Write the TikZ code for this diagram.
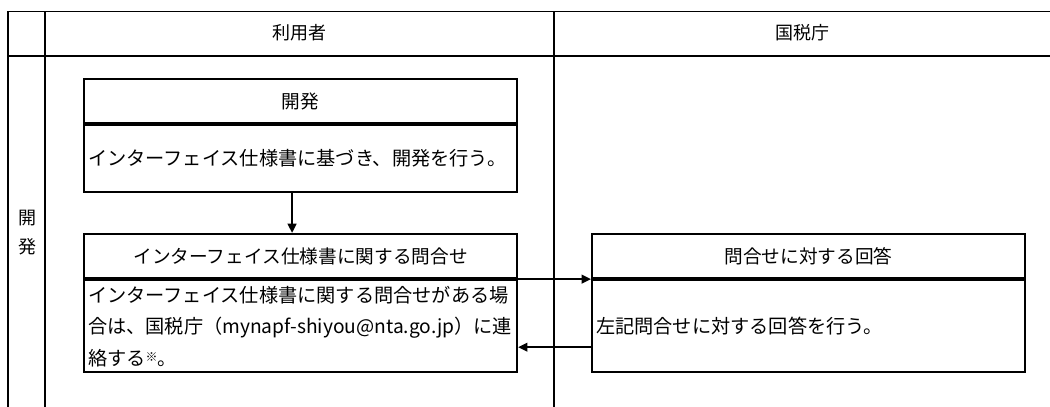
\documentclass[tikz,border=0pt]{standalone}
\usepackage{fontspec}
\newfontfamily\jp{Noto Sans CJK JP}
\usetikzlibrary{arrows.meta,calc}
\tikzset{every picture/.style={line width=0.75pt}}
\tikzset{
  boxtitle/.style={draw, line width=1.6pt, anchor=north west, inner sep=0pt, minimum width=324.75pt, minimum height=33pt, align=center, font=\jp\fontsize{14}{20}\selectfont},
  boxbody/.style={draw, line width=1.6pt, anchor=north, inner xsep=3pt, inner ysep=0pt, text width=318.75pt, align=left, font=\jp\fontsize{14.4}{23.6}\selectfont},
  headtext/.style={inner sep=0.75pt, font=\jp\fontsize{13.5}{20}\selectfont},
  flowarrow/.style={-{Triangle[length=7pt,width=6.5pt]}, line width=1.5pt},
}

\begin{document}
\begin{tikzpicture}[x=0.75pt,y=0.75pt,yscale=-1,xscale=1]
\useasboundingbox (0,0) rectangle (1050,407);

%Table lines
\draw [line width=0.75pt] (8,11) -- (1050,11) ;
\draw [line width=1.6pt] (8,56) -- (1050,56) ;
\draw [line width=1.1pt] (8,11) -- (8,407) ;
\draw [line width=1.1pt] (45,11) -- (45,407) ;
\draw [line width=1.1pt] (554,11) -- (554,407) ;

% Text Node
\node [headtext] (user) at (299.5,33) {利用者};
% Text Node
\node [headtext] (nta) at (802,33) {国税庁};
% Text Node
\node [headtext, align=center, font=\jp\fontsize{13.5}{21.75}\selectfont] (phase) at (27,232.5) {開\\発};

%Shape: Rectangle
\node [boxtitle] (devT) at (83,78) {開発};
\node [boxbody, minimum height=50.25pt] (devB) at (devT.south) {インターフェイス仕様書に基づき、開発を行う。};

%Shape: Rectangle
\node [boxtitle] (qT) at (83,233) {インターフェイス仕様書に関する問合せ};
\node [boxbody, minimum height=69pt] (qB) at (qT.south) {インターフェイス仕様書に関する問合せがある場\\合は、国税庁（mynapf-shiyou@nta.go.jp）に連\\絡する{\fontsize{9}{9}\selectfont\raisebox{0.5ex}{※}}。};

%Shape: Rectangle
\node [boxtitle] (ansT) at (591,233) {問合せに対する回答};
\node [boxbody, minimum height=69pt] (ansB) at (ansT.south) {左記問合せに対する回答を行う。};

%Straight Lines
\draw [flowarrow] ($(devB.south)+(-8.5,0)$) -- ($(qT.north)+(-8.5,0)$) ;
%Straight Lines
\draw [flowarrow] (qT.south east) -- (ansT.south west) ;
%Straight Lines
\draw [flowarrow] ($(ansB.west)+(0,21)$) -- ($(qB.east)+(0,21)$) ;

\end{tikzpicture}
\end{document}
